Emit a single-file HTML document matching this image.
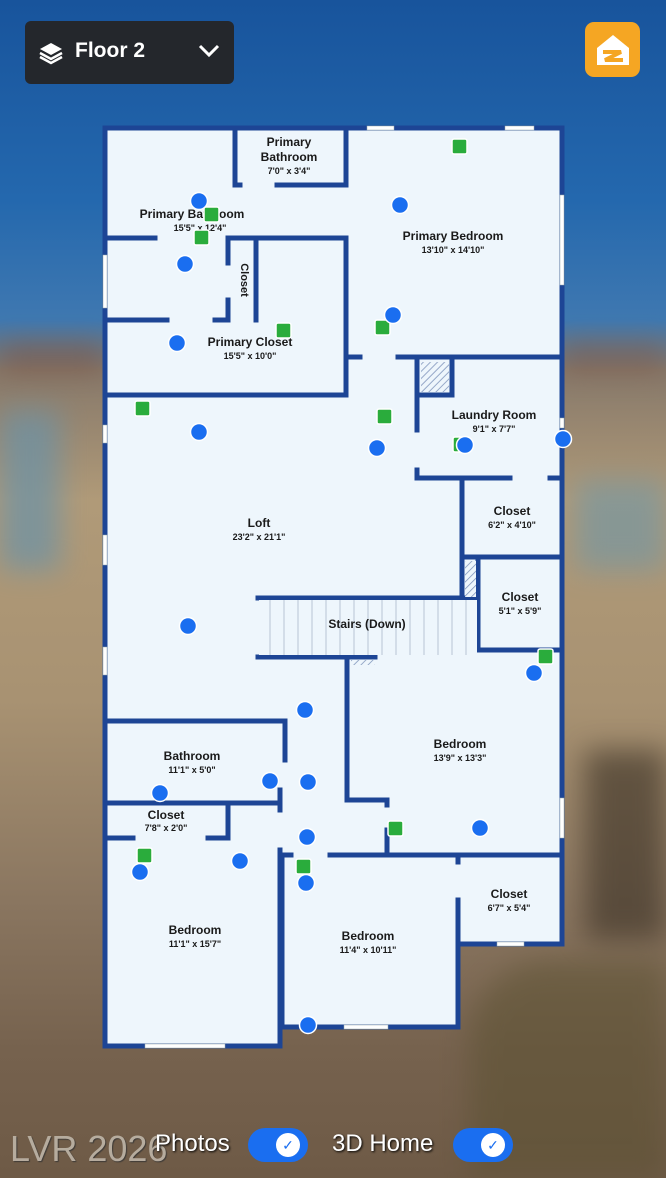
<!DOCTYPE html>
<html><head><meta charset="utf-8"><style>
html,body{margin:0;padding:0}
body{width:666px;height:1178px;position:relative;overflow:hidden;font-family:"Liberation Sans",sans-serif;
background:linear-gradient(180deg,#18549c 0px,#2468ae 200px,#3f78b0 320px,#86786a 370px,#b09a78 500px,#a89272 700px,#8a7660 900px,#76624e 1050px,#6e5a46 1178px);}
.blk{position:absolute}
.bl{position:absolute;filter:blur(14px)}
svg text{font-family:"Liberation Sans",sans-serif;font-weight:bold;fill:#1a1a1a;text-anchor:middle}
</style></head><body>
<div class="bl" style="left:0;top:410px;width:60px;height:160px;background:#6a92a8;opacity:.7"></div>
<div class="bl" style="left:0;top:345px;width:105px;height:25px;background:#7a5040;opacity:.6"></div>
<div class="bl" style="left:562px;top:345px;width:104px;height:25px;background:#7a5040;opacity:.5"></div>
<div class="bl" style="left:575px;top:480px;width:91px;height:90px;background:#6e96a8;opacity:.6"></div>
<div class="bl" style="left:585px;top:750px;width:81px;height:190px;background:#3a3024;opacity:.6"></div>
<div class="bl" style="left:470px;top:960px;width:196px;height:218px;background:#5a5030;opacity:.5;border-radius:80px 0 0 0"></div>
<div class="blk" style="left:25px;top:21px;width:209px;height:63px;background:#24272c;border-radius:6px"></div>
<svg class="blk" style="left:38px;top:40px" width="26" height="26" viewBox="0 0 26 26"><path d="M13 3 L24 9 L13 15 L2 9Z" fill="#fff"/><path d="M2 13 L13 19 L24 13" stroke="#fff" stroke-width="2.5" fill="none"/><path d="M2 17 L13 23 L24 17" stroke="#fff" stroke-width="2.5" fill="none"/></svg>
<div class="blk" style="left:75px;top:39px;color:#fff;font-size:21px;font-weight:bold">Floor 2</div>
<svg class="blk" style="left:198px;top:44px" width="22" height="14"><path d="M2 2 L11 11 L20 2" stroke="#fff" stroke-width="3" fill="none"/></svg>
<div class="blk" style="left:585px;top:22px;width:55px;height:55px;background:#f5a623;border-radius:9px"></div>
<svg class="blk" style="left:585px;top:22px" width="55" height="55"><path d="M12 26 L28 13 L44 26 L44 43 L12 43Z" fill="#fff"/><path d="M18 30 L36 30 L20 38 L38 38" stroke="#f5a623" stroke-width="4" fill="none"/></svg>

<svg class="blk" style="left:0;top:0" width="666" height="1178">
<defs><pattern id="h" width="5" height="5" patternUnits="userSpaceOnUse" patternTransform="rotate(45)"><rect width="5" height="5" fill="#eef6fc"/><line x1="0" y1="0" x2="0" y2="5" stroke="#7a90b8" stroke-width="1.5"/></pattern></defs>
<polygon points="105,128 562,128 562,944 458,944 458,1027 280,1027 280,1046 105,1046" fill="#eef6fc" stroke="#1d4595" stroke-width="5"/>
<g stroke="#1d4595" stroke-width="5" fill="none" stroke-linecap="square">
<path d="M235 128V185H240M277 185H346V128"/>
<path d="M105 238H155M105 320H167M105 395H346V238H228V263M228 300V320H215M256 238V320"/>
<path d="M346 357H360M398 357H562"/>
<path d="M417 357V430M417 470V478H510M550 478H562M452 357V395H417"/>
<path d="M462 478V598M462 557H562M478 557V650M520 650H562"/>
<path d="M258 598H478M258 657H375V650H520"/>
<path d="M347 660V800H387V805M387 830V855"/>
<path d="M280 855H291M330 855H562"/>
<path d="M105 721H285V760M280 790V810M280 850V1046M105 803H280M228 803V838H208M133 838H105"/>
<path d="M282 855V1027M458 855V862M458 900V944"/>
</g>
<rect x="259" y="600" width="218" height="55" fill="#eef6fc"/>
<g stroke="#b8c4d4" stroke-width="1">
<line x1="270" y1="600" x2="270" y2="655"/><line x1="284" y1="600" x2="284" y2="655"/><line x1="298" y1="600" x2="298" y2="655"/><line x1="312" y1="600" x2="312" y2="655"/><line x1="326" y1="600" x2="326" y2="655"/><line x1="340" y1="600" x2="340" y2="655"/><line x1="354" y1="600" x2="354" y2="655"/><line x1="368" y1="600" x2="368" y2="655"/><line x1="382" y1="600" x2="382" y2="655"/><line x1="396" y1="600" x2="396" y2="655"/><line x1="410" y1="600" x2="410" y2="655"/><line x1="424" y1="600" x2="424" y2="655"/><line x1="438" y1="600" x2="438" y2="655"/><line x1="452" y1="600" x2="452" y2="655"/><line x1="466" y1="600" x2="466" y2="655"/>
</g>
<rect x="421" y="362" width="28" height="30" fill="url(#h)"/>
<rect x="465" y="561" width="11" height="36" fill="url(#h)"/>
<rect x="351" y="660" width="24" height="5" fill="url(#h)"/>
<g fill="#fff" stroke="#9aa" stroke-width=".5">
<rect x="367" y="126" width="27" height="4"/><rect x="505" y="126" width="29" height="4"/>
<rect x="560" y="195" width="4" height="90"/><rect x="103" y="255" width="4" height="53"/>
<rect x="103" y="425" width="4" height="18"/><rect x="103" y="535" width="4" height="30"/><rect x="103" y="647" width="4" height="28"/>
<rect x="560" y="418" width="4" height="10"/><rect x="560" y="798" width="4" height="40"/>
<rect x="145" y="1044" width="80" height="4"/><rect x="344" y="1025" width="44" height="4"/><rect x="497" y="942" width="27" height="4"/>
</g>
<text x="289" y="146" font-size="12">Primary</text><text x="289" y="161" font-size="12">Bathroom</text><text x="289" y="174" font-size="9">7'0" x 3'4"</text>
<text x="192" y="218" font-size="12">Primary Bathroom</text><text x="200" y="231" font-size="9">15'5" x 12'4"</text>
<text x="453" y="240" font-size="12">Primary Bedroom</text><text x="453" y="253" font-size="9">13'10" x 14'10"</text>
<text x="241" y="280" font-size="11" transform="rotate(90 241 280)">Closet</text>
<text x="250" y="346" font-size="12">Primary Closet</text><text x="250" y="359" font-size="9">15'5" x 10'0"</text>
<text x="494" y="419" font-size="12">Laundry Room</text><text x="494" y="432" font-size="9">9'1" x 7'7"</text>
<text x="512" y="515" font-size="12">Closet</text><text x="512" y="528" font-size="9">6'2" x 4'10"</text>
<text x="259" y="527" font-size="12">Loft</text><text x="259" y="540" font-size="9">23'2" x 21'1"</text>
<text x="520" y="601" font-size="12">Closet</text><text x="520" y="614" font-size="9">5'1" x 5'9"</text>
<text x="367" y="628" font-size="12">Stairs (Down)</text>
<text x="460" y="748" font-size="12">Bedroom</text><text x="460" y="761" font-size="9">13'9" x 13'3"</text>
<text x="192" y="760" font-size="12">Bathroom</text><text x="192" y="773" font-size="9">11'1" x 5'0"</text>
<text x="166" y="819" font-size="12">Closet</text><text x="166" y="831" font-size="9">7'8" x 2'0"</text>
<text x="509" y="898" font-size="12">Closet</text><text x="509" y="911" font-size="9">6'7" x 5'4"</text>
<text x="195" y="934" font-size="12">Bedroom</text><text x="195" y="947" font-size="9">11'1" x 15'7"</text>
<text x="368" y="940" font-size="12">Bedroom</text><text x="368" y="953" font-size="9">11'4" x 10'11"</text>
<g fill="#2aac3c" stroke="#fff" stroke-width="1.5">
<rect x="452" y="139" width="15" height="15" rx="2"/><rect x="204" y="207" width="15" height="15" rx="2"/><rect x="194" y="230" width="15" height="15" rx="2"/>
<rect x="276" y="323" width="15" height="15" rx="2"/><rect x="375" y="320" width="15" height="15" rx="2"/><rect x="135" y="401" width="15" height="15" rx="2"/>
<rect x="377" y="409" width="15" height="15" rx="2"/><rect x="453" y="437" width="15" height="15" rx="2"/><rect x="538" y="649" width="15" height="15" rx="2"/>
<rect x="388" y="821" width="15" height="15" rx="2"/><rect x="137" y="848" width="15" height="15" rx="2"/><rect x="296" y="859" width="15" height="15" rx="2"/>
</g>
<g fill="#1a6ef0" stroke="#fff" stroke-width="1.5">
<circle cx="199" cy="201" r="8.5"/><circle cx="400" cy="205" r="8.5"/><circle cx="185" cy="264" r="8.5"/><circle cx="393" cy="315" r="8.5"/>
<circle cx="177" cy="343" r="8.5"/><circle cx="199" cy="432" r="8.5"/><circle cx="377" cy="448" r="8.5"/><circle cx="465" cy="445" r="8.5"/><circle cx="563" cy="439" r="8.5"/>
<circle cx="188" cy="626" r="8.5"/><circle cx="534" cy="673" r="8.5"/><circle cx="305" cy="710" r="8.5"/><circle cx="270" cy="781" r="8.5"/><circle cx="308" cy="782" r="8.5"/>
<circle cx="160" cy="793" r="8.5"/><circle cx="307" cy="837" r="8.5"/><circle cx="480" cy="828" r="8.5"/><circle cx="240" cy="861" r="8.5"/><circle cx="140" cy="872" r="8.5"/>
<circle cx="306" cy="883" r="8.5"/><circle cx="308" cy="1025" r="8.5"/>
</g>
</svg>
<div class="blk" style="left:10px;top:1128px;font-size:36px;color:#c8c0b4;opacity:.8;text-shadow:1px 1px 1px #333">LVR 2026</div>
<div class="blk" style="left:155px;top:1130px;font-size:24px;color:#fff;text-shadow:1px 1px 2px #000">Photos</div>
<div class="blk" style="left:248px;top:1128px;width:60px;height:34px;background:#1a6ef0;border-radius:17px"></div>
<div class="blk" style="left:276px;top:1133px;width:24px;height:24px;background:#fff;border-radius:12px;color:#1a6ef0;font-size:14px;text-align:center;line-height:24px">✓</div>
<div class="blk" style="left:332px;top:1130px;font-size:24px;color:#fff;text-shadow:1px 1px 2px #000">3D Home</div>
<div class="blk" style="left:453px;top:1128px;width:60px;height:34px;background:#1a6ef0;border-radius:17px"></div>
<div class="blk" style="left:481px;top:1133px;width:24px;height:24px;background:#fff;border-radius:12px;color:#1a6ef0;font-size:14px;text-align:center;line-height:24px">✓</div>
</body></html>
